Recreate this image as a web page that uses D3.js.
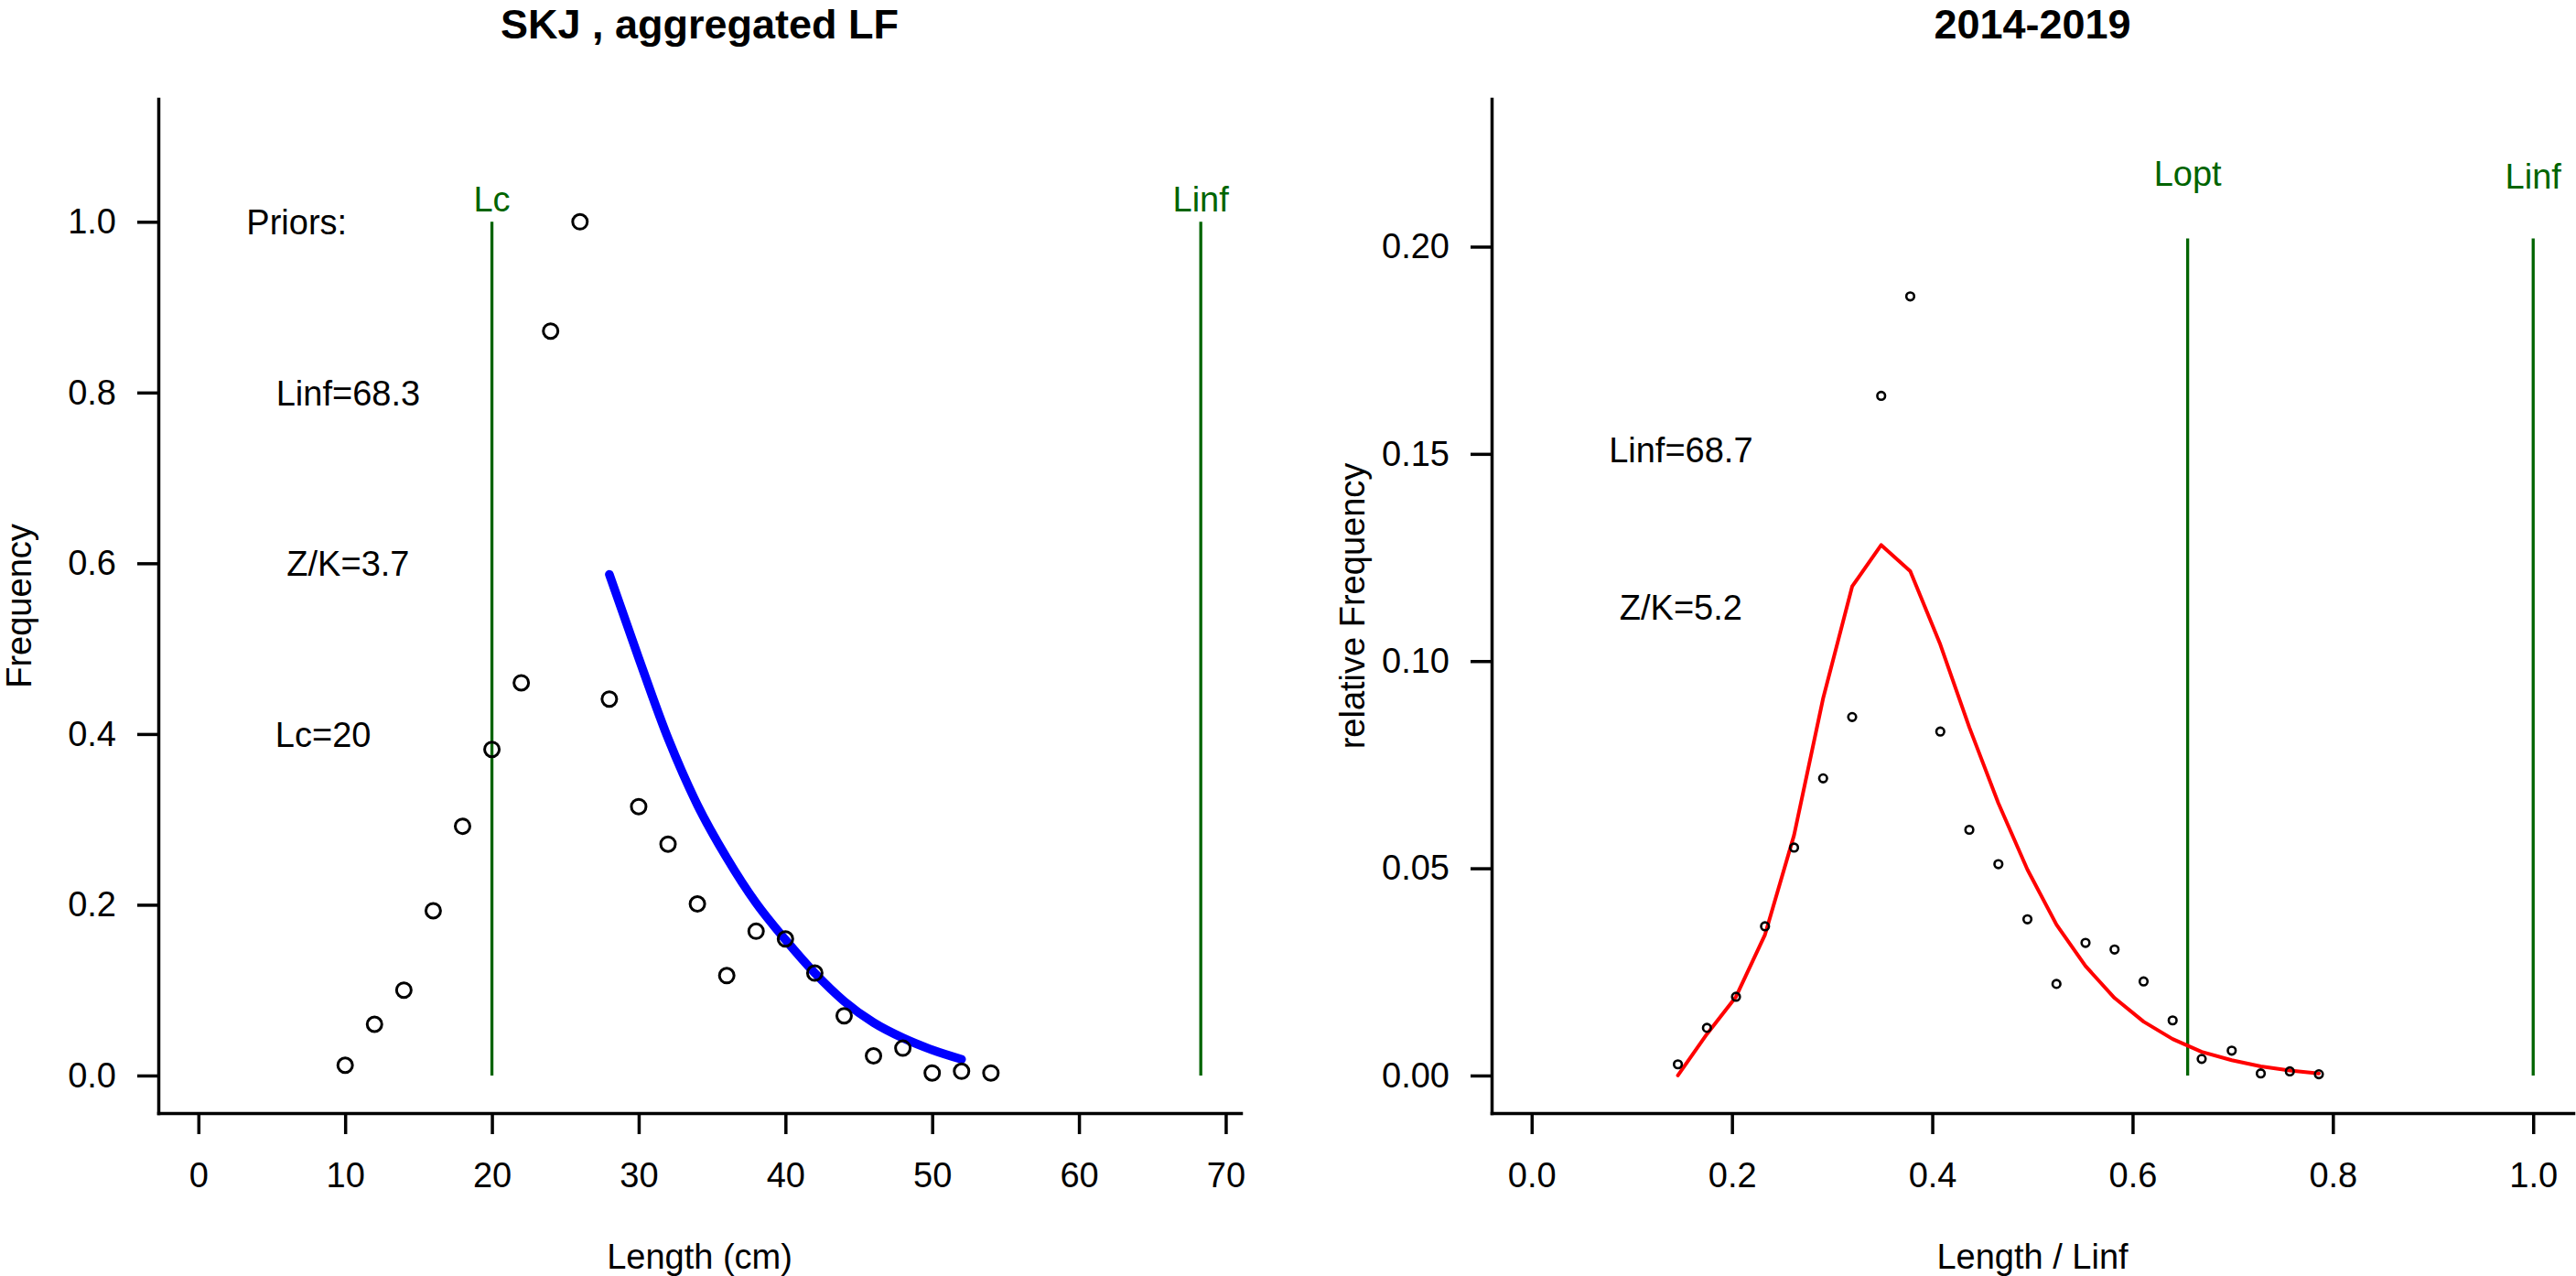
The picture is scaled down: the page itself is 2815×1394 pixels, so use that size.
<!DOCTYPE html>
<html>
<head>
<meta charset="utf-8">
<script src="https://cdn.jsdelivr.net/npm/d3@7"></script>
<style>
  body { margin: 0; background: #fff; }
  svg { display: block; font-family: "Liberation Sans", Arial, sans-serif; }
  .tick text { font-size: 38px; fill: #000; }
  .tick line, .domain { stroke: #000; stroke-width: 3.5; }
</style>
</head>
<body>
<svg width="2815" height="1394"></svg>
<script>
// ---- left panel: aggregated length frequency ----
var lengths = [10,12,14,16,18,20,22,24,26,28,30,32,34,36,38,40,42,44,46,48,50,52,54];
var freq = [0.012,0.060,0.100,0.193,0.292,0.382,0.460,0.872,1.000,0.441,0.315,0.271,
            0.201,0.117,0.169,0.160,0.120,0.070,0.023,0.032,0.003,0.005,0.003];
var fitLengths = [28,30,32,34,36,38,40,42,44,46,48,50,52];
var fitFreq = [0.587,0.489,0.395,0.317,0.255,0.202,0.159,0.120,0.087,0.062,0.044,0.030,0.019];
var leftXTicks = [0,10,20,30,40,50,60,70];
var leftYTicks = [0,0.2,0.4,0.6,0.8,1.0];
var leftMarks = [{name:"Lc", x:20}, {name:"Linf", x:68.3}];
var priorsText = ["Priors:","Linf=68.3","Z/K=3.7","Lc=20"];
var priorsAt = [{x:6.7, y:1.0},{x:10.2, y:0.8},{x:10.2, y:0.6},{x:8.5, y:0.4}];

// ---- right panel: 2014-2019 relative frequency ----
var relLength = [0.146,0.175,0.204,0.233,0.262,0.291,0.320,0.349,0.378,0.408,0.437,0.466,
                 0.495,0.524,0.553,0.582,0.611,0.640,0.669,0.699,0.728,0.757,0.786];
var relFreq = [0.0027,0.0115,0.0190,0.0360,0.0550,0.0717,0.0865,0.1640,0.1880,0.0830,0.0593,0.0510,
               0.0377,0.0221,0.0320,0.0304,0.0227,0.0133,0.0040,0.0060,0.0005,0.0010,0.0003];
var relFit = [0.0000,0.0100,0.0190,0.0340,0.0580,0.0910,0.1180,0.1280,0.1217,0.1040,0.0840,0.0657,
              0.0497,0.0364,0.0264,0.0187,0.0130,0.0088,0.0057,0.0037,0.0022,0.0012,0.0005];
var rightXTicks = [0,0.2,0.4,0.6,0.8,1.0];
var rightYTicks = [0,0.05,0.10,0.15,0.20];
var rightMarks = [{name:"Lopt", x:0.655}, {name:"Linf", x:1.0}];
var rightText = ["Linf=68.7","Z/K=5.2"];
var rightTextAt = [{x:0.149, y:0.151},{x:0.149, y:0.113}];

var green = "#006400";
var svg = d3.select("svg");
var top_ = 108, bottom = 1216;

// R style axis extension of 4% on each side
var pad = function(lo, hi) { var r = hi - lo; return [lo - 0.04*r, hi + 0.04*r]; };

var drawPanel = function(p)
{
    var x = d3.scaleLinear().domain(pad(p.xlim[0], p.xlim[1])).range([p.left, p.right]);
    var y = d3.scaleLinear().domain(pad(p.ylim[0], p.ylim[1])).range([bottom, top_]);
    var g = svg.append("g");

    g.append("g")
        .attr("transform", "translate(0," + bottom + ")")
        .call(d3.axisBottom(x).tickValues(p.xTicks).tickFormat(d3.format(p.xFmt))
              .tickSize(23).tickSizeOuter(0).tickPadding(31));
    g.append("g")
        .attr("transform", "translate(" + p.left + ",0)")
        .call(d3.axisLeft(y).tickValues(p.yTicks).tickFormat(d3.format(p.yFmt))
              .tickSize(23).tickSizeOuter(0).tickPadding(23));
    g.selectAll(".domain").attr("stroke-linecap", "square");

    // reference lines
    g.selectAll("line.ref").data(p.marks).enter().append("line")
        .attr("x1", function(d) { return x(d.x); })
        .attr("x2", function(d) { return x(d.x); })
        .attr("y1", y(0)).attr("y2", y(p.markTop))
        .attr("stroke", green).attr("stroke-width", 3.3);
    g.selectAll("text.ref").data(p.marks).enter().append("text")
        .attr("x", function(d) { return x(d.x); })
        .attr("y", function(d, i) { return p.labelY[i]; })
        .attr("text-anchor", "middle").attr("fill", green)
        .style("font-size", "38px").text(function(d) { return d.name; });

    // fitted curve
    g.append("path")
        .datum(d3.zip(p.fitX, p.fitY))
        .attr("d", d3.line().x(function(d) { return x(d[0]); }).y(function(d) { return y(d[1]); })
              .curve(p.curve))
        .attr("fill", "none").attr("stroke", p.fitColor).attr("stroke-width", p.fitWidth)
        .attr("stroke-linecap", "round").attr("stroke-linejoin", "round");

    // observed points
    g.selectAll("circle").data(d3.zip(p.ptX, p.ptY)).enter().append("circle")
        .attr("cx", function(d) { return x(d[0]); })
        .attr("cy", function(d) { return y(d[1]); })
        .attr("r", p.r).attr("fill", "none").attr("stroke", "#000").attr("stroke-width", p.rw);

    // annotation text
    g.selectAll("text.note").data(p.notes).enter().append("text")
        .attr("x", function(d, i) { return x(p.notesAt[i].x); })
        .attr("y", function(d, i) { return y(p.notesAt[i].y); })
        .attr("dy", "0.36em").attr("text-anchor", "middle")
        .style("font-size", "38px").text(function(d) { return d; });

    var cx = (p.left + p.right) / 2;
    g.append("text").attr("x", cx).attr("y", 42).attr("text-anchor", "middle")
        .style("font-size", "45px").style("font-weight", "bold").text(p.title);
    g.append("text").attr("x", cx).attr("y", 1386).attr("text-anchor", "middle")
        .style("font-size", "38px").text(p.xLabel);
    g.append("text")
        .attr("transform", "translate(" + (p.left - 139) + "," + ((top_ + bottom) / 2) + ") rotate(-90)")
        .attr("text-anchor", "middle").style("font-size", "38px").text(p.yLabel);
};

drawPanel({
    left:173, right:1356, xlim:[0,68.3], ylim:[0,1.1],
    xTicks:leftXTicks, yTicks:leftYTicks, xFmt:"d", yFmt:".1f",
    marks:leftMarks, markTop:1.0, labelY:[231,231],
    fitX:fitLengths, fitY:fitFreq, fitColor:"#0000ff", fitWidth:9.5, curve:d3.curveMonotoneX,
    ptX:lengths, ptY:freq, r:8, rw:3,
    notes:priorsText, notesAt:priorsAt,
    title:"SKJ , aggregated LF", xLabel:"Length (cm)", yLabel:"Frequency"
});

drawPanel({
    left:1630, right:2812, xlim:[0,1], ylim:[0,0.2266],
    xTicks:rightXTicks, yTicks:rightYTicks, xFmt:".1f", yFmt:".2f",
    marks:rightMarks, markTop:0.202, labelY:[203,206],
    fitX:relLength, fitY:relFit, fitColor:"#ff0000", fitWidth:4, curve:d3.curveLinear,
    ptX:relLength, ptY:relFreq, r:4.3, rw:2.6,
    notes:rightText, notesAt:rightTextAt,
    title:"2014-2019", xLabel:"Length / Linf", yLabel:"relative Frequency"
});
</script>
</body>
</html>
